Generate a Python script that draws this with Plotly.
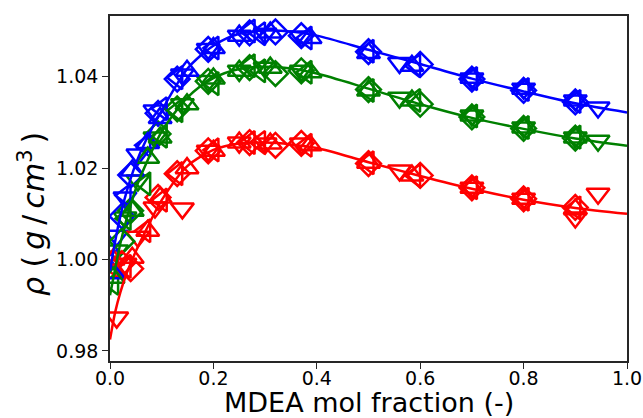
import plotly.graph_objects as go

# Fitted density curves (mol fraction MDEA vs density, g/cm3)
curve_x = [0.0, 0.01, 0.02, 0.03, 0.05, 0.07, 0.10, 0.15, 0.20, 0.25, 0.30,
           0.35, 0.40, 0.50, 0.60, 0.70, 0.80, 0.90, 1.00]
curve_blue = [0.9975, 1.0040, 1.0095, 1.0140, 1.0210, 1.0262, 1.0326, 1.0418,
              1.0468, 1.0494, 1.0501, 1.0499, 1.0490, 1.0459, 1.0428, 1.0396,
              1.0368, 1.0342, 1.0322]
curve_green = [0.9922, 0.9980, 1.0035, 1.0080, 1.0155, 1.0210, 1.0280, 1.0355,
               1.0397, 1.0417, 1.0422, 1.0418, 1.0407, 1.0374, 1.0340, 1.0310,
               1.0286, 1.0265, 1.0249]
curve_red = [0.9825, 0.9885, 0.9928, 0.9963, 1.0018, 1.0065, 1.0130, 1.0205,
             1.0240, 1.0254, 1.0256, 1.0252, 1.0244, 1.0213, 1.0183, 1.0155,
             1.0131, 1.0113, 1.0100]

# Experimental data sets, one x grid per source
x_tri_down = [0.013, 0.029, 0.054, 0.087, 0.14, 0.19, 0.25, 0.30, 0.37, 0.56,
              0.70, 0.80, 0.90, 0.944]
blue_tri_down = [1.0052, 1.0136, 1.0230, 1.0326, 1.0405, 1.0461, 1.0490, 1.0494,
                 1.0488, 1.0430, 1.0396, 1.0374, 1.0348, 1.0333]
green_tri_down = [1.0020, 1.0092, 1.0173, 1.0267, 1.0340, 1.0391, 1.0413, 1.0420,
                  1.0413, 1.0354, 1.0315, 1.0289, 1.0267, 1.0260]
red_tri_down = [0.9873, 0.9991, 1.0050, 1.0114, 1.0112, 1.0238, 1.0256, 1.0254,
                1.0254, 1.0195, 1.0157, 1.0133, 1.0092, 1.0144]

x_diamond = [0.023, 0.04, 0.093, 0.13, 0.19, 0.27, 0.32, 0.37, 0.50, 0.60,
             0.70, 0.80, 0.90]
blue_diamond = [1.0095, 1.0185, 1.0320, 1.0395, 1.0460, 1.0496, 1.0498, 1.0490,
                1.0455, 1.0427, 1.0395, 1.0370, 1.0345]
green_diamond = [1.0040, 1.0107, 1.0275, 1.0330, 1.0390, 1.0420, 1.0407, 1.0413,
                 1.0372, 1.0340, 1.0312, 1.0287, 1.0266]
red_diamond = [0.9991, 0.9980, 1.0136, 1.0188, 1.0238, 1.0256, 1.0250, 1.0254,
               1.0210, 1.0184, 1.0157, 1.0133, 1.0114]

x_tri_left = [0.006, 0.03, 0.068, 0.10, 0.13, 0.20, 0.27, 0.29, 0.38, 0.50,
              0.59, 0.70, 0.80, 0.90]
blue_tri_left = [0.9998, 1.0140, 1.0250, 1.0330, 1.0398, 1.0463, 1.0500, 1.0494,
                 1.0485, 1.0456, 1.0424, 1.0396, 1.0372, 1.0346]
green_tri_left = [0.9948, 1.0090, 1.0166, 1.0270, 1.0326, 1.0385, 1.0424, 1.0413,
                  1.0410, 1.0370, 1.0348, 1.0314, 1.0289, 1.0268]
red_tri_left = [0.9985, 0.9985, 1.0063, 1.0130, 1.0188, 1.0240, 1.0256, 1.0256,
                1.0250, 1.0212, 1.0184, 1.0157, 1.0132, 1.0113]

x_tri_up = [0.006, 0.043, 0.073, 0.097, 0.149, 0.20, 0.25, 0.31, 0.387, 0.50,
            0.584, 0.70, 0.80, 0.90]
blue_tri_up = [0.9970, 1.0195, 1.0255, 1.0310, 1.0413, 1.0463, 1.0490, 1.0497,
               1.0485, 1.0452, 1.0424, 1.0398, 1.0374, 1.0348]
green_tri_up = [0.9960, 1.0107, 1.0223, 1.0267, 1.0340, 1.0396, 1.0413, 1.0420,
                1.0410, 1.0370, 1.0348, 1.0315, 1.0289, 1.0267]
red_tri_up = [1.0000, 1.0004, 1.0063, 1.0136, 1.0200, 1.0238, 1.0256, 1.0254,
              1.0250, 1.0212, 1.0184, 1.0157, 1.0133, 1.0110]

BLUE, GREEN, RED = "#0000ff", "#008000", "#ff0000"

fig = go.Figure()

marker_sets = [
    ("triangle-down-open", 20, x_tri_down,
     [(BLUE, blue_tri_down), (GREEN, green_tri_down), (RED, red_tri_down)]),
    ("diamond-open", 19, x_diamond,
     [(BLUE, blue_diamond), (GREEN, green_diamond), (RED, red_diamond)]),
    ("triangle-left-open", 20, x_tri_left,
     [(BLUE, blue_tri_left), (GREEN, green_tri_left), (RED, red_tri_left)]),
    ("triangle-up-open", 20, x_tri_up,
     [(BLUE, blue_tri_up), (GREEN, green_tri_up), (RED, red_tri_up)]),
]

for symbol, msize, xs, series in marker_sets:
    for color, ys in series:
        fig.add_trace(go.Scatter(
            x=xs, y=ys, mode="markers",
            marker=dict(symbol=symbol, size=msize, color=color,
                        line=dict(color=color, width=2.5)),
            showlegend=False, hoverinfo="skip"))

for color, ys in [(BLUE, curve_blue), (GREEN, curve_green), (RED, curve_red)]:
    fig.add_trace(go.Scatter(
        x=curve_x, y=ys, mode="lines",
        line=dict(color=color, width=2.5, shape="spline", smoothing=0.8),
        showlegend=False, hoverinfo="skip"))

axis_common = dict(
    showline=True, linecolor="#262626", linewidth=1.6, mirror=True,
    ticks="outside", ticklen=6, tickwidth=1.4, tickcolor="#262626",
    showgrid=False, zeroline=False, automargin=False,
    ticklabeloverflow="allow",
    tickfont=dict(family="DejaVu Sans", size=19, color="black"),
)

TS = "\u2009"  # thin space, widens the math-style label
y_title = (f"<i>ρ</i> ({TS}<i>g</i>{TS}/{TS}<i>cm</i>"
           f"<sup>3</sup>{TS})")

fig.update_layout(
    autosize=False,
    width=643, height=418,
    margin=dict(l=110, r=16, t=16, b=57),
    paper_bgcolor="white", plot_bgcolor="white",
    xaxis=dict(range=[0, 1], tickvals=[0, 0.2, 0.4, 0.6, 0.8, 1.0],
               tickformat=".1f", ticklabelstandoff=-7, **axis_common),
    yaxis=dict(range=[0.9778, 1.0533], tickvals=[0.98, 1.00, 1.02, 1.04],
               tickformat=".2f", **axis_common),
    annotations=[
        dict(text="MDEA mol fraction (-)", x=0.5, y=-0.12,
             xref="paper", yref="paper", xanchor="center", yanchor="middle",
             showarrow=False,
             font=dict(family="DejaVu Sans", size=27, color="black")),
        dict(text=y_title, x=-0.151, y=0.426,
             xref="paper", yref="paper", xanchor="center", yanchor="middle",
             textangle=-90, showarrow=False,
             font=dict(family="DejaVu Sans", size=30, color="black")),
    ],
)

fig.write_html("out.html")
